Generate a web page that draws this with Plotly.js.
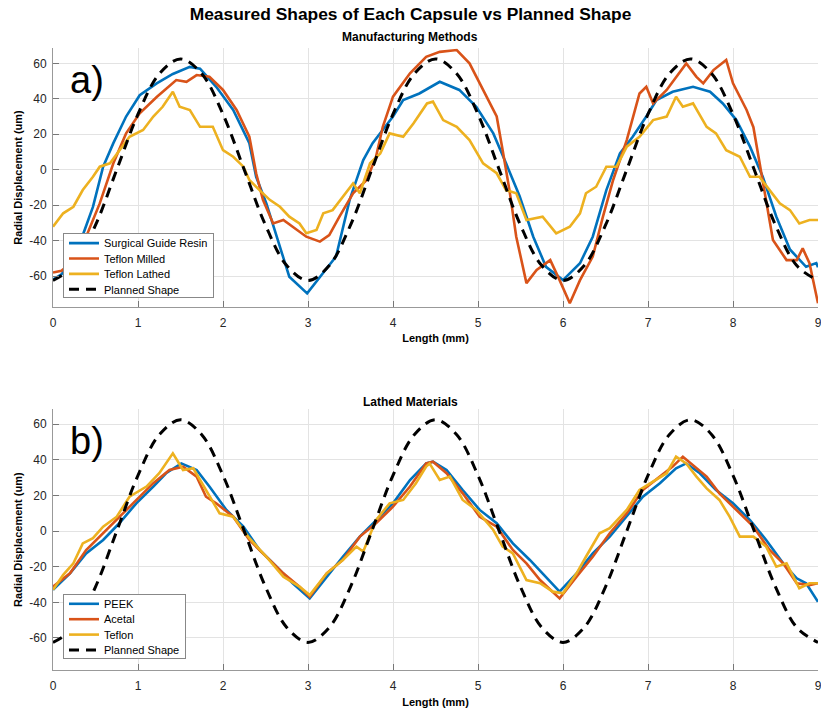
<!DOCTYPE html>
<html>
<head>
<meta charset="utf-8">
<script src="https://cdn.plot.ly/plotly-3.0.1.min.js"></script>
<style>html,body{margin:0;padding:0;background:#fff;}#chart{width:821px;height:710px;}</style>
</head>
<body>
<div id="chart"></div>
<script>
// ---- Panel a) Manufacturing Methods ----
const resinX = [0, 0.1, 0.2, 0.3, 0.35, 0.47, 0.59, 0.71, 0.86, 1.02, 1.22, 1.41, 1.61, 1.73, 1.92, 2.12, 2.31, 2.39, 2.51, 2.63, 2.78, 2.99, 3.18, 3.33, 3.49, 3.65, 3.76, 3.88, 4.0, 4.12, 4.31, 4.55, 4.78, 4.98, 5.18, 5.33, 5.49, 5.65, 5.80, 6.0, 6.20, 6.35, 6.51, 6.67, 6.82, 6.98, 7.10, 7.29, 7.53, 7.73, 7.88, 8.04, 8.20, 8.35, 8.51, 8.67, 8.86, 8.98, 9.0];
const resinY = [-62, -59, -53, -44, -37, -21, 1.7, 15, 30, 42, 48.7, 54, 58, 57, 46.8, 33.7, 15, -4, -19, -37.8, -60.4, -69.8, -58.5, -49, -17, 5.4, 15, 22.4, 30, 39.3, 43, 49.6, 45, 35.5, 20.5, 3.6, -15, -37.8, -54.8, -62.3, -52.8, -37.8, -11.5, 9.2, 18.6, 30, 39.3, 44, 46.8, 44, 37.4, 28, 13, -4, -26.5, -45, -54.8, -52.7, -55];

const milledX = [0, 0.1, 0.2, 0.3, 0.39, 0.55, 0.71, 0.86, 1.02, 1.22, 1.45, 1.57, 1.69, 1.84, 2.0, 2.16, 2.31, 2.39, 2.47, 2.59, 2.71, 2.82, 2.98, 3.14, 3.25, 3.37, 3.53, 3.69, 3.80, 3.88, 4.0, 4.20, 4.39, 4.55, 4.75, 4.90, 5.06, 5.22, 5.29, 5.37, 5.45, 5.57, 5.69, 5.85, 5.96, 6.08, 6.20, 6.35, 6.47, 6.59, 6.75, 6.90, 6.98, 7.06, 7.22, 7.33, 7.45, 7.57, 7.65, 7.77, 7.92, 8.0, 8.16, 8.24, 8.31, 8.39, 8.47, 8.63, 8.75, 8.82, 8.90, 9.0];
const milledY = [-58, -57, -53, -46, -37.8, -19, 3.6, 20.5, 31.8, 41, 50.6, 49.6, 53.4, 52.4, 45, 33.7, 18.6, -2, -17, -30.3, -28.4, -32.2, -37.8, -40.6, -36.9, -26.5, -13.3, -5.8, 7.3, 24.2, 41.2, 54.4, 63.7, 66.5, 67.5, 60, 45, 30, 11, -11.5, -37.8, -64, -56.6, -51, -62.3, -75.4, -62.3, -49, -26.5, -5.8, 16.7, 43, 46.8, 37.4, 45, 52.4, 60, 52.4, 48.7, 56.2, 61.9, 48.7, 33.7, 24, 5, -18, -39.7, -51, -51, -44.4, -52.8, -75.4];

const lathedX = [0, 0.12, 0.24, 0.35, 0.47, 0.55, 0.67, 0.78, 0.90, 1.06, 1.18, 1.29, 1.41, 1.49, 1.61, 1.73, 1.88, 2.0, 2.12, 2.24, 2.31, 2.43, 2.55, 2.67, 2.78, 2.90, 2.98, 3.10, 3.18, 3.29, 3.41, 3.53, 3.61, 3.73, 3.85, 3.96, 4.12, 4.24, 4.40, 4.47, 4.59, 4.75, 4.90, 5.06, 5.22, 5.33, 5.45, 5.57, 5.76, 5.92, 6.08, 6.20, 6.27, 6.39, 6.51, 6.63, 6.75, 6.90, 7.06, 7.22, 7.33, 7.41, 7.53, 7.69, 7.80, 7.92, 8.08, 8.20, 8.31, 8.43, 8.55, 8.67, 8.78, 8.90, 9.0];
const lathedY = [-32.2, -24.6, -20.9, -11.5, -4, 1.7, 3.6, 11, 18.6, 22.4, 30, 35.5, 44, 35.5, 33.7, 24.2, 24.2, 11, 7.3, 1.7, -5.8, -11.5, -17, -20.9, -26.5, -30.3, -35.9, -34, -24.6, -22.8, -15.3, -7.7, -13.3, 3.6, 9.2, 20.5, 18.6, 26.1, 37.4, 38.4, 28, 24.2, 16.7, 3.6, -2, -11.5, -13.3, -28.4, -26.5, -35.9, -32.2, -24.6, -13.3, -9.6, 1.7, 1.7, 13, 18.6, 28, 30, 41.2, 35.5, 37.4, 24.2, 20.5, 11, 7.3, -4, -4, -11.5, -19, -22.8, -30.3, -28.4, -28.4];

// ---- Planned shape (both panels) ----
const plannedX = [0, 0.25, 0.5, 0.75, 1, 1.25, 1.5, 1.75, 2, 2.25, 2.5, 2.75, 3, 3.25, 3.5, 3.75, 4, 4.25, 4.5, 4.75, 5, 5.25, 5.5, 5.75, 6, 6.25, 6.5, 6.75, 7, 7.25, 7.5, 7.75, 8, 8.25, 8.5, 8.75, 9];
const plannedY = [-62.5, -54.1, -31.3, 0, 31.3, 54.1, 62.5, 54.1, 31.3, 0, -31.3, -54.1, -62.5, -54.1, -31.3, 0, 31.3, 54.1, 62.5, 54.1, 31.3, 0, -31.3, -54.1, -62.5, -54.1, -31.3, 0, 31.3, 54.1, 62.5, 54.1, 31.3, 0, -31.3, -54.1, -62.5];

// ---- Panel b) Lathed Materials ----
const peekX = [0, 0.2, 0.39, 0.59, 0.78, 0.98, 1.18, 1.33, 1.51, 1.69, 1.84, 2.04, 2.24, 2.43, 2.63, 2.82, 3.02, 3.22, 3.41, 3.61, 3.80, 4.0, 4.20, 4.39, 4.47, 4.63, 4.82, 5.02, 5.22, 5.41, 5.61, 5.80, 5.96, 6.16, 6.35, 6.55, 6.75, 6.94, 7.14, 7.33, 7.45, 7.61, 7.80, 8.0, 8.20, 8.39, 8.59, 8.75, 8.86, 9.0];
const peekY = [-33, -23.7, -12.5, -5, 4.4, 15.6, 25, 32.5, 38, 34.3, 25, 11.9, 2.5, -10.6, -20, -29.3, -37.8, -25.6, -14.4, -3.1, 6.2, 15.6, 28.7, 38, 39, 34.3, 23.1, 11.9, 4.4, -6.9, -16.2, -25.6, -34, -23.7, -12.5, -3.1, 8.1, 19.3, 26.9, 35.3, 38, 32.5, 23.1, 15.6, 6.2, -5, -18.1, -26.5, -29.3, -39.7];

const acetalX = [0, 0.2, 0.39, 0.59, 0.78, 0.98, 1.18, 1.37, 1.53, 1.69, 1.80, 1.92, 2.12, 2.31, 2.51, 2.71, 2.90, 3.02, 3.22, 3.41, 3.61, 3.80, 4.0, 4.20, 4.39, 4.47, 4.63, 4.82, 5.02, 5.22, 5.41, 5.57, 5.73, 5.96, 6.16, 6.35, 6.55, 6.75, 6.94, 7.14, 7.29, 7.41, 7.53, 7.69, 7.84, 8.04, 8.24, 8.43, 8.59, 8.75, 8.90, 9.0];
const acetalY = [-31.2, -23.7, -10.6, -1.2, 8.1, 17.5, 26.9, 34.3, 36.2, 30.6, 19.3, 15.6, 8.1, -5, -14.4, -23.7, -31.2, -36.9, -23.7, -16.2, -3.1, 4.4, 13.7, 25, 38, 39, 32.5, 21.2, 8.1, 2.5, -10.6, -18.1, -27.5, -37.8, -25.6, -14.4, -1.2, 10, 23.1, 30.6, 36.2, 41.8, 37.1, 30.6, 21.2, 11.9, 2.5, -10.6, -18.1, -29.3, -30.3, -29.3];

const teflonX = [0, 0.12, 0.24, 0.35, 0.47, 0.59, 0.75, 0.90, 1.10, 1.25, 1.41, 1.53, 1.65, 1.80, 1.96, 2.12, 2.31, 2.51, 2.71, 2.90, 3.02, 3.22, 3.41, 3.57, 3.65, 3.80, 3.96, 4.12, 4.27, 4.39, 4.43, 4.55, 4.67, 4.82, 4.98, 5.18, 5.29, 5.41, 5.57, 5.73, 5.88, 6.0, 6.16, 6.27, 6.43, 6.55, 6.75, 6.90, 7.06, 7.22, 7.33, 7.45, 7.57, 7.69, 7.84, 7.96, 8.08, 8.24, 8.39, 8.51, 8.63, 8.78, 8.90, 9.0];
const teflonY = [-33, -24.6, -18.1, -6.9, -4, 2.5, 8.1, 19.3, 25, 32.5, 43.7, 34.3, 35.3, 23.1, 10, 8.1, -4, -14.4, -25.6, -31.2, -35.9, -23.7, -16.2, -8.7, -11.5, 6.2, 15.6, 17.5, 26.9, 36.2, 38, 28.7, 30.6, 17.5, 11.9, 0.6, -8.7, -12.5, -27.5, -29.3, -34, -34.9, -23.7, -14.4, -1.2, 1.6, 11.9, 23.1, 27.8, 32.5, 41.8, 38, 30.6, 24, 17.5, 8.1, -3.1, -3.1, -8.7, -20, -18.1, -32.1, -29.3, -29.3];

const xTicks = [0, 1, 2, 3, 4, 5, 6, 7, 8, 9];
const yTicks = [-60, -40, -20, 0, 20, 40, 60];

const BLUE = '#0072BD', ORANGE = '#D95319', YELLOW = '#EDB120';
const FONT = 'Liberation Sans, Arial, Helvetica, sans-serif';
const LW = 2.6;

function line(x, y, name, color, xa, ya, leg, dash) {
  return {
    x: x, y: y, name: name, type: 'scatter', mode: 'lines',
    xaxis: xa, yaxis: ya, legend: leg,
    line: {color: color, width: dash ? 3 : LW, dash: dash || 'solid', shape: dash ? 'spline' : 'linear'}
  };
}

const traces = [
  line(resinX, resinY, 'Surgical Guide Resin', BLUE, 'x', 'y', 'legend'),
  line(milledX, milledY, 'Teflon Milled', ORANGE, 'x', 'y', 'legend'),
  line(lathedX, lathedY, 'Teflon Lathed', YELLOW, 'x', 'y', 'legend'),
  line(plannedX, plannedY, 'Planned Shape', '#000000', 'x', 'y', 'legend', '10px,7px'),
  line(peekX, peekY, 'PEEK', BLUE, 'x2', 'y2', 'legend2'),
  line(acetalX, acetalY, 'Acetal', ORANGE, 'x2', 'y2', 'legend2'),
  line(teflonX, teflonY, 'Teflon', YELLOW, 'x2', 'y2', 'legend2'),
  line(plannedX, plannedY, 'Planned Shape', '#000000', 'x2', 'y2', 'legend2', '10px,7px')
];

function xax(anchor) {
  return {
    anchor: anchor, domain: [0, 1], range: [0, 9], tickvals: xTicks,
    ticks: 'inside', ticklen: 6, tickcolor: '#777', tickwidth: 1,
    showline: true, linecolor: '#999', linewidth: 1,
    showgrid: true, gridcolor: '#e3e3e3', gridwidth: 1, zeroline: false,
    tickfont: {family: FONT, size: 12, color: '#262626'},
    ticklabelstandoff: 5, ticklabeloverflow: 'allow',
    title: {text: '<b>Length (mm)</b>', font: {family: FONT, size: 11, color: '#000'}, standoff: 5}
  };
}
function yax(anchor, domain, range) {
  return {
    anchor: anchor, domain: domain, range: range, tickvals: yTicks,
    ticktext: yTicks.map(String),
    ticks: 'inside', ticklen: 6, tickcolor: '#777', tickwidth: 1,
    showline: true, linecolor: '#999', linewidth: 1,
    showgrid: true, gridcolor: '#e3e3e3', gridwidth: 1, zeroline: false,
    tickfont: {family: FONT, size: 12, color: '#262626'},
    ticklabelstandoff: 3,
    title: {text: '<b>Radial Displacement (um)</b>', font: {family: FONT, size: 11, color: '#000'}, standoff: 4}
  };
}

const legendCommon = {
  bgcolor: '#ffffff', bordercolor: '#888', borderwidth: 1,
  font: {family: FONT, size: 11, color: '#000'},
  xanchor: 'left', yanchor: 'top', tracegroupgap: 0,
  itemwidth: 30
};

const layout = {
  width: 821, height: 710,
  margin: {l: 53, r: 3, t: 0, b: 0},
  paper_bgcolor: '#ffffff', plot_bgcolor: '#ffffff',
  showlegend: true,
  title: {text: '<b>Measured Shapes of Each Capsule vs Planned Shape</b>',
          font: {family: FONT, size: 17.4, color: '#000'},
          x: 0.5, xref: 'container', y: 1 - 14 / 710, yref: 'container', yanchor: 'middle'},
  xaxis: xax('y'),
  yaxis: yax('x', [1 - 306.7 / 710, 1 - 48.3 / 710], [-77.3, 68.5]),
  xaxis2: xax('y2'),
  yaxis2: yax('x2', [1 - 670 / 710, 1 - 409.3 / 710], [-78, 68.4]),
  legend: Object.assign({}, legendCommon, {x: (63 - 53) / 765, y: 1 - 233.3 / 710}),
  legend2: Object.assign({}, legendCommon, {x: (63 - 53) / 765, y: 1 - 594 / 710}),
  annotations: [
    {text: '<b>Manufacturing Methods</b>', xref: 'paper', yref: 'paper', x: (410 - 53) / 765, y: 1 - 37 / 710,
     xanchor: 'center', yanchor: 'middle', showarrow: false, font: {family: FONT, size: 12, color: '#000'}},
    {text: '<b>Lathed Materials</b>', xref: 'paper', yref: 'paper', x: (410 - 53) / 765, y: 1 - 402 / 710,
     xanchor: 'center', yanchor: 'middle', showarrow: false, font: {family: FONT, size: 12, color: '#000'}},
    {text: 'a)', xref: 'paper', yref: 'paper', x: (68 - 53) / 765, y: 1 - 80 / 710,
     xanchor: 'left', yanchor: 'middle', showarrow: false, font: {family: FONT, size: 38, color: '#000'}},
    {text: 'b)', xref: 'paper', yref: 'paper', x: (68 - 53) / 765, y: 1 - 441 / 710,
     xanchor: 'left', yanchor: 'middle', showarrow: false, font: {family: FONT, size: 38, color: '#000'}}
  ]
};

// Tighten the legend row spacing to match the reference (rows ~15.4px apart, box 64px tall)
function compactLegends() {
  document.querySelectorAll('.infolayer > g').forEach(function (g) {
    const cls = g.getAttribute('class') || '';
    if (!/^legend\d*$/.test(cls)) return;
    const items = g.querySelectorAll('g.traces');
    items.forEach(function (it, i) {
      const m = /translate\(([-\d.]+)[ ,]+([-\d.]+)\)/.exec(it.getAttribute('transform') || '');
      const tx = m ? parseFloat(m[1]) : 0;
      it.setAttribute('transform', 'translate(' + tx + ',' + (9.8 + 15.4 * i) + ')');
    });
    const bg = g.querySelector('rect.bg');
    if (bg) bg.setAttribute('height', 64);
  });
}

Plotly.newPlot('chart', traces, layout, {displayModeBar: false, staticPlot: true}).then(compactLegends);
</script>
</body>
</html>
